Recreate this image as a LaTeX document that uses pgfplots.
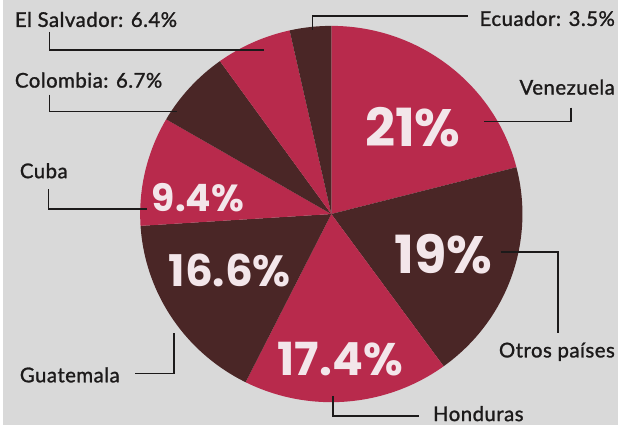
\documentclass[border=0pt]{standalone}
\usepackage{pgfplots}
\pgfplotsset{compat=1.18}
\usepackage{pgfplotstable}
\usepackage{fontspec}
\setmainfont{Lato}[FakeBold=1.3, LetterSpace=2.5]
\newfontfamily\pctfont{Poppins}
\definecolor{bg}{HTML}{D9D9D9}
\definecolor{crim}{HTML}{B82A4C}
\definecolor{brn}{HTML}{4A2626}
\definecolor{pcttext}{HTML}{F3E6EA}
\definecolor{ink}{HTML}{1C1A1A}
\colorlet{slice0}{crim}
\colorlet{slice1}{brn}
\colorlet{slice2}{crim}
\colorlet{slice3}{brn}
\colorlet{slice4}{crim}
\colorlet{slice5}{brn}
\colorlet{slice6}{crim}
\colorlet{slice7}{brn}

% share of each country, clockwise from the top
\pgfplotstableread{
country value
Venezuela 21
Otros 19
Honduras 17.4
Guatemala 16.6
Cuba 9.4
Colombia 6.7
ElSalvador 6.4
Ecuador 3.5
}\piedata

\begin{document}
\def\cumang{90}
\foreach \i in {0,...,7}{%
  \pgfplotstablegetelem{\i}{value}\of\piedata
  \pgfmathsetmacro\endang{\cumang-3.6*\pgfplotsretval}%
  \expandafter\xdef\csname sa\i\endcsname{\cumang}%
  \expandafter\xdef\csname ea\i\endcsname{\endang}%
  \xdef\cumang{\endang}%
}%
\begin{tikzpicture}
\begin{axis}[
  x=1bp, y=1bp, scale only axis,
  xmin=0, xmax=618, ymin=0, ymax=427,
  hide axis, clip=false,
]
\fill[bg] (axis cs:0,0) rectangle (axis cs:618,427);
\pgfplotsinvokeforeach{0,...,7}{
  \fill[slice#1] (axis cs:330,212) --
    (axis cs:{330+192*cos(\csname sa#1\endcsname)},{212+189*sin(\csname sa#1\endcsname)})
    arc[start angle=\csname sa#1\endcsname, end angle=\csname ea#1\endcsname, x radius=192, y radius=189] -- cycle;
}
% leader lines
\draw[ink, line width=1.6bp] (axis cs:47,395) -- (axis cs:47,377) -- (axis cs:262,377);
\draw[ink, line width=1.6bp] (axis cs:47,332) -- (axis cs:47,315) -- (axis cs:175,315);
\draw[ink, line width=1.6bp] (axis cs:46,237) -- (axis cs:46,217) -- (axis cs:145,217);
\draw[ink, line width=1.6bp] (axis cs:467,411) -- (axis cs:311,411) -- (axis cs:311,397);
\draw[ink, line width=1.6bp] (axis cs:571,319) -- (axis cs:571,305) -- (axis cs:483,305);
\draw[ink, line width=1.6bp] (axis cs:500,174) -- (axis cs:558,174) -- (axis cs:558,92);
\draw[ink, line width=1.6bp] (axis cs:332,29) -- (axis cs:332,9) -- (axis cs:418,9);
\draw[ink, line width=1.6bp] (axis cs:133,52) -- (axis cs:172,52) -- (axis cs:172,92);
% labels
\begin{scope}[every node/.style={inner sep=0pt, text=ink, font=\fontsize{20.5}{24}\selectfont}]
\node[anchor=base west] at (axis cs:12,400) {El Salvador: 6.4\%};
\node[anchor=base west] at (axis cs:12,339) {Colombia: 6.7\%};
\node[anchor=base west] at (axis cs:17,248) {Cuba};
\node[anchor=base east] at (axis cs:615,401) {Ecuador: 3.5\%};
\node[anchor=base east] at (axis cs:615,332) {Venezuela};
\node[anchor=base east] at (axis cs:615,68) {Otros países};
\node[anchor=base west] at (axis cs:432,4) {Honduras};
\node[anchor=base west] at (axis cs:17,43) {Guatemala};
\end{scope}
% percentages
\begin{scope}[every node/.style={inner sep=0pt, anchor=base, text=pcttext}]
\node[font=\pctfont\bfseries\fontsize{53}{60}\selectfont] at (axis cs:412,280) {21\%};
\node[font=\pctfont\bfseries\fontsize{53}{60}\selectfont] at (axis cs:443,152) {19\%};
\node[font=\pctfont\bfseries\fontsize{46}{52}\selectfont] at (axis cs:339,50) {17.4\%};
\node[font=\pctfont\bfseries\fontsize{44}{50}\selectfont] at (axis cs:228,139) {16.6\%};
\node[font=\pctfont\bfseries\fontsize{38}{44}\selectfont] at (axis cs:196,215) {9.4\%};
\end{scope}
\end{axis}
\end{tikzpicture}
\end{document}
